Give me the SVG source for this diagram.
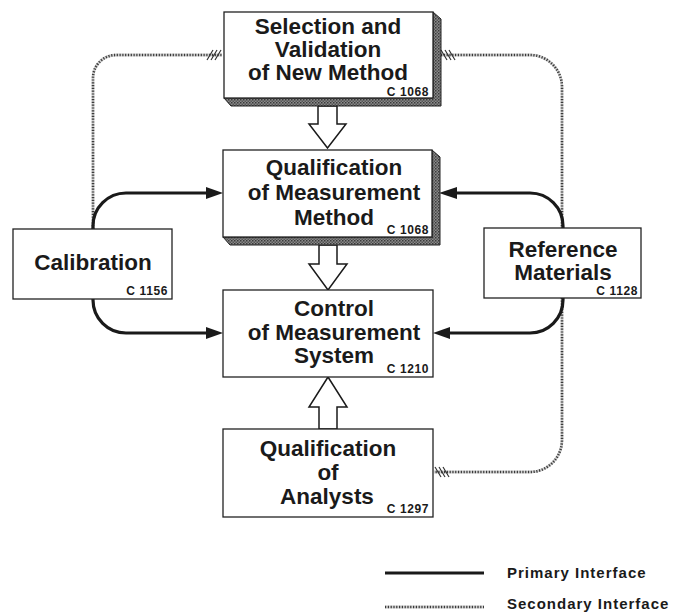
<svg xmlns="http://www.w3.org/2000/svg" width="673" height="613" viewBox="0 0 673 613">
<style>
.box{fill:#fff;stroke:#222;stroke-width:1.3}
.shadow{fill:url(#hatch);stroke:#222;stroke-width:1}
.t{font-family:"Liberation Sans",Arial,sans-serif;font-weight:bold;font-size:22.5px;fill:#1a1a1a;text-anchor:middle}
.c{font-family:"Liberation Sans",Arial,sans-serif;font-weight:bold;font-size:12px;letter-spacing:0.6px;fill:#1a1a1a;text-anchor:end}
.lg{font-family:"Liberation Sans",Arial,sans-serif;font-weight:bold;font-size:15px;letter-spacing:1px;fill:#1a1a1a}
.pri{fill:none;stroke:#1a1a1a;stroke-width:3.2}
.head{fill:#1a1a1a}
.secbg{fill:none;stroke:#d0d0d0;stroke-width:2.8}
.sec{fill:none;stroke:#3a3a3a;stroke-width:2.6;stroke-dasharray:1.2 1.6}
.hat{stroke:#333;stroke-width:1.2}
.hollow{fill:#fff;stroke:#1a1a1a;stroke-width:1.5;stroke-linejoin:miter}
</style>
<defs>
<pattern id="hatch" width="3" height="3" patternUnits="userSpaceOnUse">
<rect width="3" height="3" fill="#8a8a8a"/>
<rect width="1.5" height="1.5" fill="#3a3a3a"/>
<rect x="1.5" y="1.5" width="1.5" height="1.5" fill="#555"/>
</pattern>
</defs>

<g id="connectors">
<!-- secondary interfaces -->
<path class="secbg" d="M93,229 V78 A23,23 0 0 1 116,55 H222"/>
<path class="sec" d="M93,229 V78 A23,23 0 0 1 116,55 H222"/>
<g class="hat">
<line x1="207" y1="60" x2="213" y2="50"/>
<line x1="211" y1="60" x2="217" y2="50"/>
<line x1="215" y1="60" x2="221" y2="50"/>
</g>
<path class="secbg" d="M441,55 H530 A32,32 0 0 1 562,87 V440 A32,32 0 0 1 530,472 H434"/>
<path class="sec" d="M441,55 H530 A32,32 0 0 1 562,87 V440 A32,32 0 0 1 530,472 H434"/>
<g class="hat">
<line x1="441" y1="50" x2="447" y2="60"/>
<line x1="445" y1="50" x2="451" y2="60"/>
<line x1="449" y1="50" x2="455" y2="60"/>
<line x1="435" y1="467" x2="441" y2="477"/>
<line x1="439" y1="467" x2="445" y2="477"/>
<line x1="443" y1="467" x2="449" y2="477"/>
</g>
<!-- primary interfaces -->
<path class="pri" d="M93,229 V226 A33,33 0 0 1 126,193 H208"/>
<polygon class="head" points="206,187 223,193 206,199"/>
<path class="pri" d="M93,299 V300 A33,33 0 0 0 126,333 H208"/>
<polygon class="head" points="206,327 223,333 206,339"/>
<path class="pri" d="M563,228 V226 A33,33 0 0 0 530,193 H455"/>
<polygon class="head" points="457,187 439,193 457,199"/>
<path class="pri" d="M563,298 V300 A33,33 0 0 1 530,333 H448"/>
<polygon class="head" points="450,327 433,333 450,339"/>
<!-- hollow flow arrows -->
<polygon class="hollow" points="318,106 337,106 337,124 346,124 327.5,148 309,124 318,124"/>
<polygon class="hollow" points="319,245 337,245 337,264 347,264 328,290 309,264 319,264"/>
<polygon class="hollow" points="319,429 337,429 337,407 347,407 328,377 309,407 319,407"/>
</g>

<g id="node-selection">
<polygon class="shadow" points="433,12 441,19 441,106 231,106 224,98 433,98"/>
<rect class="box" x="224" y="12" width="209" height="86"/>
<text class="t" x="328" y="34">Selection and</text>
<text class="t" x="328" y="57">Validation</text>
<text class="t" x="328" y="80">of New Method</text>
<text class="c" x="429" y="96">C 1068</text>
</g>

<g id="node-qual-method">
<polygon class="shadow" points="432,150 440,157 440,245 230,245 223,237 432,237"/>
<rect class="box" x="223" y="150" width="209" height="87"/>
<text class="t" x="334" y="175">Qualification</text>
<text class="t" x="334" y="200">of Measurement</text>
<text class="t" x="334" y="225">Method</text>
<text class="c" x="429" y="234">C 1068</text>
</g>

<g id="node-control">
<rect class="box" x="223" y="290" width="210" height="87"/>
<text class="t" x="334" y="316">Control</text>
<text class="t" x="334" y="340">of Measurement</text>
<text class="t" x="334" y="363">System</text>
<text class="c" x="429" y="373">C 1210</text>
</g>

<g id="node-qual-analysts">
<rect class="box" x="223" y="429" width="210" height="88"/>
<text class="t" x="328" y="456">Qualification</text>
<text class="t" x="328" y="480">of</text>
<text class="t" x="327" y="504">Analysts</text>
<text class="c" x="429" y="513">C 1297</text>
</g>

<g id="node-calibration">
<rect class="box" x="13" y="229" width="159" height="70"/>
<text class="t" x="93" y="270">Calibration</text>
<text class="c" x="168" y="295">C 1156</text>
</g>

<g id="node-reference">
<rect class="box" x="484" y="228" width="157" height="70"/>
<text class="t" x="563" y="257">Reference</text>
<text class="t" x="563" y="280">Materials</text>
<text class="c" x="638" y="295">C 1128</text>
</g>

<g id="legend">
<line class="pri" x1="385" y1="573" x2="484" y2="573"/>
<text class="lg" x="507" y="578">Primary Interface</text>
<line class="secbg" x1="385" y1="607" x2="484" y2="607"/>
<line class="sec" x1="385" y1="607" x2="484" y2="607"/>
<text class="lg" x="507" y="609">Secondary Interface</text>
</g>
</svg>
